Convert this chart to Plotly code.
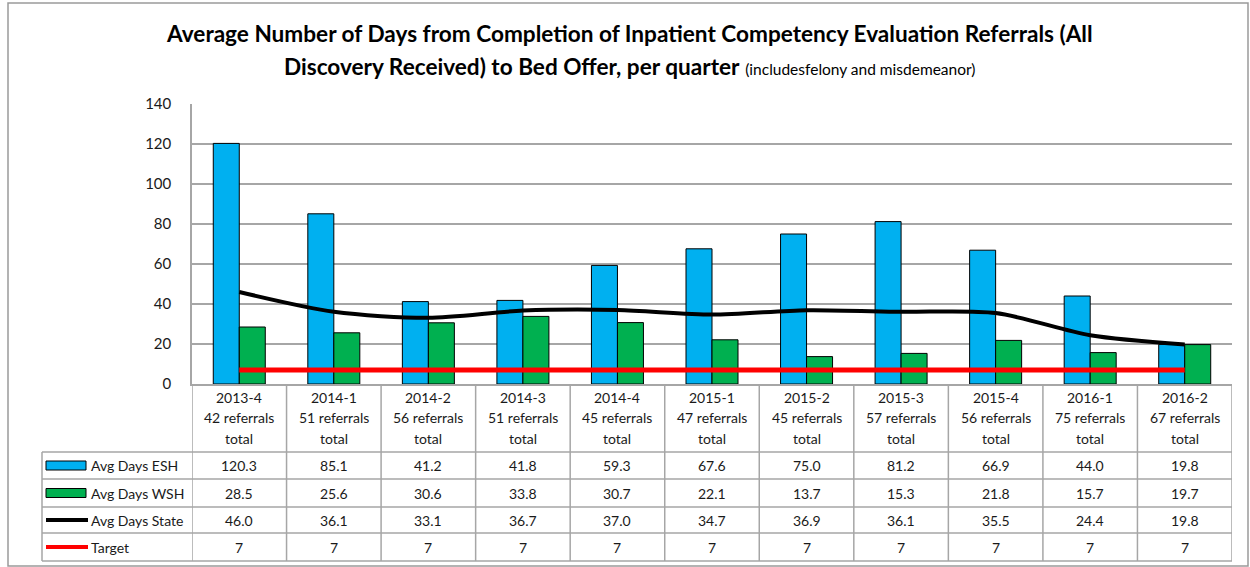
import plotly.graph_objects as go

quarters = ["2013-4", "2014-1", "2014-2", "2014-3", "2014-4", "2015-1",
            "2015-2", "2015-3", "2015-4", "2016-1", "2016-2"]
referrals = [42, 51, 56, 51, 45, 47, 45, 57, 56, 75, 67]
avg_esh = [120.3, 85.1, 41.2, 41.8, 59.3, 67.6, 75.0, 81.2, 66.9, 44.0, 19.8]
avg_wsh = [28.5, 25.6, 30.6, 33.8, 30.7, 22.1, 13.7, 15.3, 21.8, 15.7, 19.7]
avg_state = [46.0, 36.1, 33.1, 36.7, 37.0, 34.7, 36.9, 36.1, 35.5, 24.4, 19.8]
target = [7, 7, 7, 7, 7, 7, 7, 7, 7, 7, 7]
y_ticks = [0, 20, 40, 60, 80, 100, 120, 140]

series_names = ["Avg Days ESH", "Avg Days WSH", "Avg Days State", "Target"]
BLUE, GREEN, BLACK, RED = "#00B0F0", "#00B050", "#000000", "#FF0000"
GRID = "#A6A6A6"
FONT = "Lato"
TXT = "#1a1a1a"

W, H = 1250, 567
L, R, T, B = 192, 18, 104, 183
PW, PH = W - L - R, H - T - B


def px(x):
    return (x - L) / PW


def py(y):
    return (H - B - y) / PH


xs = list(range(len(quarters)))

fig = go.Figure()
fig.add_trace(go.Bar(x=xs, y=avg_esh, name=series_names[0], marker=dict(color=BLUE, line=dict(color="#000", width=1))))
fig.add_trace(go.Bar(x=xs, y=avg_wsh, name=series_names[1], marker=dict(color=GREEN, line=dict(color="#000", width=1))))
fig.add_trace(go.Scatter(x=xs, y=avg_state, name=series_names[2], mode="lines",
                         line=dict(color=BLACK, width=4, shape="spline", smoothing=0.8)))
fig.add_trace(go.Scatter(x=xs, y=target, name=series_names[3], mode="lines",
                         line=dict(color=RED, width=5)))

shapes = []
ann = []

# title
ann.append(dict(x=px(629), y=py(33), xref="paper", yref="paper", showarrow=False,
                text="<b>Average Number of Days from Completion of Inpatient Competency Evaluation Referrals (All</b>",
                font=dict(family=FONT, size=22.6, color="#000"), xanchor="center", yanchor="middle"))
ann.append(dict(x=px(629), y=py(66), xref="paper", yref="paper", showarrow=False,
                text="<b>Discovery Received) to Bed Offer, per quarter</b> <span style='font-size:15.5px'>(includesfelony and misdemeanor)</span>",
                font=dict(family=FONT, size=22.6, color="#000"), xanchor="center", yanchor="middle"))

# category label row
for i, q in enumerate(quarters):
    for j, line in enumerate([q, f"{referrals[i]} referrals", "total"]):
        ann.append(dict(x=i, y=py(397 + j * 20.5), xref="x", yref="paper", showarrow=False,
                        text=line, font=dict(family=FONT, size=14, color=TXT),
                        xanchor="center", yanchor="middle"))

# data table
row_bounds = [452, 479, 507, 533, 561]
rows = [[f"{v:.1f}" for v in avg_esh], [f"{v:.1f}" for v in avg_wsh],
        [f"{v:.1f}" for v in avg_state], [str(v) for v in target]]
for r, vals in enumerate(rows):
    yc = (row_bounds[r] + row_bounds[r + 1]) / 2
    for i, v in enumerate(vals):
        ann.append(dict(x=i, y=py(yc), xref="x", yref="paper", showarrow=False, text=v,
                        font=dict(family=FONT, size=14, color=TXT), xanchor="center", yanchor="middle"))
    ann.append(dict(x=px(89), y=py(yc), xref="paper", yref="paper", showarrow=False,
                    text=series_names[r], font=dict(family=FONT, size=14, color=TXT),
                    xanchor="left", yanchor="middle"))

# legend keys
for r, col in enumerate([BLUE, GREEN]):
    yc = (row_bounds[r] + row_bounds[r + 1]) / 2
    shapes.append(dict(type="rect", xref="paper", yref="paper", x0=px(46), x1=px(86),
                       y0=py(yc - 4.5), y1=py(yc + 4.5), fillcolor=col, line=dict(color="#000", width=1)))
for r, (col, w) in zip([2, 3], [(BLACK, 4), (RED, 4)]):
    yc = (row_bounds[r] + row_bounds[r + 1]) / 2
    shapes.append(dict(type="line", xref="paper", yref="paper", x0=px(46), x1=px(88),
                       y0=py(yc), y1=py(yc), line=dict(color=col, width=w)))

# table grid
for yb in row_bounds:
    shapes.append(dict(type="line", xref="paper", yref="paper", x0=px(42), x1=px(1232),
                       y0=py(yb), y1=py(yb), line=dict(color=GRID, width=1.5)))
for i in range(len(quarters) + 1):
    shapes.append(dict(type="line", xref="x", yref="paper", x0=i - 0.5, x1=i - 0.5,
                       y0=py(384), y1=py(561), line=dict(color=GRID, width=1.5)))
shapes.append(dict(type="line", xref="paper", yref="paper", x0=px(42), x1=px(42),
                   y0=py(452), y1=py(561), line=dict(color=GRID, width=1.5)))

# outer border
shapes.append(dict(type="rect", xref="paper", yref="paper", x0=px(8), x1=px(1248),
                   y0=py(3), y1=py(566), line=dict(color="#9a9a9a", width=1.5)))

fig.update_layout(
    width=W, height=H, margin=dict(l=L, r=R, t=T, b=B),
    paper_bgcolor="white", plot_bgcolor="white",
    barmode="group", bargap=0.45, bargroupgap=0,
    showlegend=False,
    shapes=shapes, annotations=ann,
    font=dict(family=FONT, color=TXT),
    xaxis=dict(range=[-0.5, 10.5], showticklabels=False, showgrid=False, zeroline=False,
               showline=True, linecolor=GRID, linewidth=1.5, ticks=""),
    yaxis=dict(range=[0, 140], tickvals=y_ticks, showgrid=True, gridcolor=GRID, gridwidth=1.5,
               zeroline=False, showline=True, linecolor=GRID, linewidth=1.5,
               tickfont=dict(family=FONT, size=15, color=TXT), ticks="", ticklabelstandoff=16),
)

fig.write_html("out.html", config={"displayModeBar": False},
               post_script="document.body.style.margin='0px';document.body.style.overflow='hidden';")
